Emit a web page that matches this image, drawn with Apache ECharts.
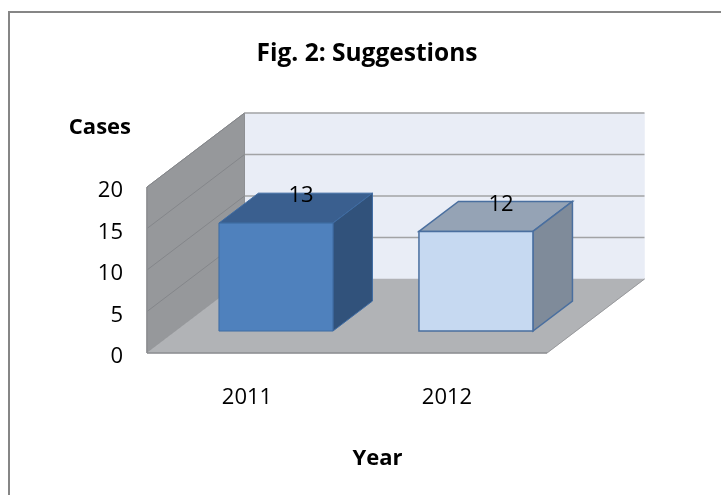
<!DOCTYPE html>
<html>
<head>
<meta charset="utf-8">
<style>html,body{margin:0;padding:0;background:#fff}#c{width:721px;height:495px}</style>
<script src="https://cdn.jsdelivr.net/npm/echarts@6/dist/echarts.min.js"></script>
</head>
<body>
<div id="c"></div>
<script>
const categories = ['2011', '2012'];
const values = [13, 12];
const yTicks = [0, 5, 10, 15, 20];
const titleText = 'Fig. 2: Suggestions';
const yName = 'Cases';
const xName = 'Year';

const FONT = '"Open Sans", sans-serif';
const DX = 97.5, DY = -74;          // full depth of the 3D box
const FRONT = 0.297, DEPTH = 0.405; // bar placement inside the depth
const BARW = 0.57;                  // bar width as share of a category band
const barStyles = [
  { front: '#4F81BD', top: '#3A5F8F', side: '#31527B', stroke: '#3F6CA3', lw: 1 },
  { front: '#C6D9F1', top: '#95A3B5', side: '#7F8B9A', stroke: '#4A6F9F', lw: 1.5 }
];
const poly = (points, fill, stroke, lw) => ({
  type: 'polygon', shape: { points },
  style: { fill, stroke: stroke || fill, lineWidth: lw || 0.5 }
});
const seg = (a, b, stroke, lw) => ({
  type: 'line', shape: { x1: a[0], y1: a[1], x2: b[0], y2: b[1] },
  style: { stroke, lineWidth: lw }
});

function renderWalls(params, api) {
  const cs = params.coordSys;
  const left = cs.x, right = cs.x + cs.width;
  const y0 = api.coord([0, yTicks[0]])[1];
  const yT = api.coord([0, yTicks[yTicks.length - 1]])[1];
  const children = [
    poly([[left + DX, yT + DY], [right + DX, yT + DY], [right + DX, y0 + DY], [left + DX, y0 + DY]], '#E9EDF6'),
    poly([[left, yT], [left + DX, yT + DY], [left + DX, y0 + DY], [left, y0]], '#96989B', '#8E9093', 1),
    poly([[left, y0], [left + DX, y0 + DY], [right + DX, y0 + DY], [right, y0]], '#B1B3B6')
  ];
  yTicks.forEach(function (t) {
    const y = api.coord([0, t])[1];
    if (t > 0) {
      children.push(seg([left + DX, y + DY], [right + DX, y + DY], '#A2A3A5', 1.5));
      children.push(seg([left, y], [left + DX, y + DY], '#84868A', 1));
    }
  });
  children.push(seg([left, y0], [right, y0], '#8C8E91', 1.5));
  children.push(seg([right, y0], [right + DX, y0 + DY], '#98999C', 1));
  children.push(seg([left, y0], [left, yT], '#8C8E91', 1.5));
  return { type: 'group', children };
}

function renderBar(params, api) {
  const idx = api.value(0), v = api.value(1);
  const base = api.coord([idx, 0]);
  const tip = api.coord([idx, v]);
  const w = api.size([1, 0])[0] * BARW;
  const ox = DX * FRONT, oy = DY * FRONT;
  const bx = DX * DEPTH, by = DY * DEPTH;
  const x1 = base[0] - w / 2 + ox, x2 = base[0] + w / 2 + ox;
  const yb = base[1] + oy, yt = tip[1] + oy;
  const s = barStyles[params.dataIndex];
  return {
    type: 'group',
    children: [
      poly([[x1, yt], [x1 + bx, yt + by], [x2 + bx, yt + by], [x2, yt]], s.top, s.stroke, s.lw),
      poly([[x2, yt], [x2 + bx, yt + by], [x2 + bx, yb + by], [x2, yb]], s.side, s.stroke, s.lw),
      poly([[x1, yt], [x2, yt], [x2, yb], [x1, yb]], s.front, s.stroke, s.lw),
      {
        type: 'text',
        style: {
          text: String(v), x: (x1 + x2) / 2 + 25, y: yt - 27,
          align: 'center', verticalAlign: 'middle',
          fill: '#000', font: '22px ' + FONT
        }
      }
    ]
  };
}

const chart = echarts.init(document.getElementById('c'), null, { renderer: 'canvas' });
chart.setOption({
  animation: false,
  backgroundColor: '#fff',
  title: {
    text: titleText, left: 362, top: 37, textAlign: 'center',
    textStyle: { fontFamily: FONT, fontWeight: 'bold', fontSize: 24.5, color: '#000' }
  },
  graphic: [
    { type: 'line', silent: true, shape: { x1: 9, y1: 12, x2: 721, y2: 12 }, style: { stroke: '#868686', lineWidth: 2 } },
    { type: 'line', silent: true, shape: { x1: 9, y1: 11, x2: 9, y2: 495 }, style: { stroke: '#868686', lineWidth: 2 } }
  ],
  grid: { left: 147, top: 187, width: 400, height: 166 },
  xAxis: {
    type: 'category', data: categories,
    axisLine: { show: false }, axisTick: { show: false },
    axisLabel: { fontFamily: FONT, fontSize: 22, color: '#000', margin: 34 },
    name: xName, nameLocation: 'middle', nameGap: 95,
    nameTextStyle: { fontFamily: FONT, fontWeight: 'bold', fontSize: 22, color: '#000', padding: [0, 0, 0, 61] }
  },
  yAxis: {
    type: 'value', min: 0, max: 20, interval: 5,
    axisLine: { show: false }, axisTick: { show: false }, splitLine: { show: false },
    axisLabel: { fontFamily: FONT, fontSize: 22, color: '#000', margin: 24, verticalAlign: 'top', lineHeight: 8 },
    name: yName, nameLocation: 'end', nameGap: 48,
    nameTextStyle: { fontFamily: FONT, fontWeight: 'bold', fontSize: 22, color: '#000', align: 'right', padding: [0, 16, 0, 0] }
  },
  series: [
    { type: 'custom', silent: true, z: 1, renderItem: renderWalls, data: [[0, 0]], clip: false },
    {
      type: 'custom', silent: true, z: 2, renderItem: renderBar, clip: false,
      encode: { x: 0, y: 1 },
      data: values.map((v, i) => [i, v])
    }
  ]
});
</script>
</body>
</html>
